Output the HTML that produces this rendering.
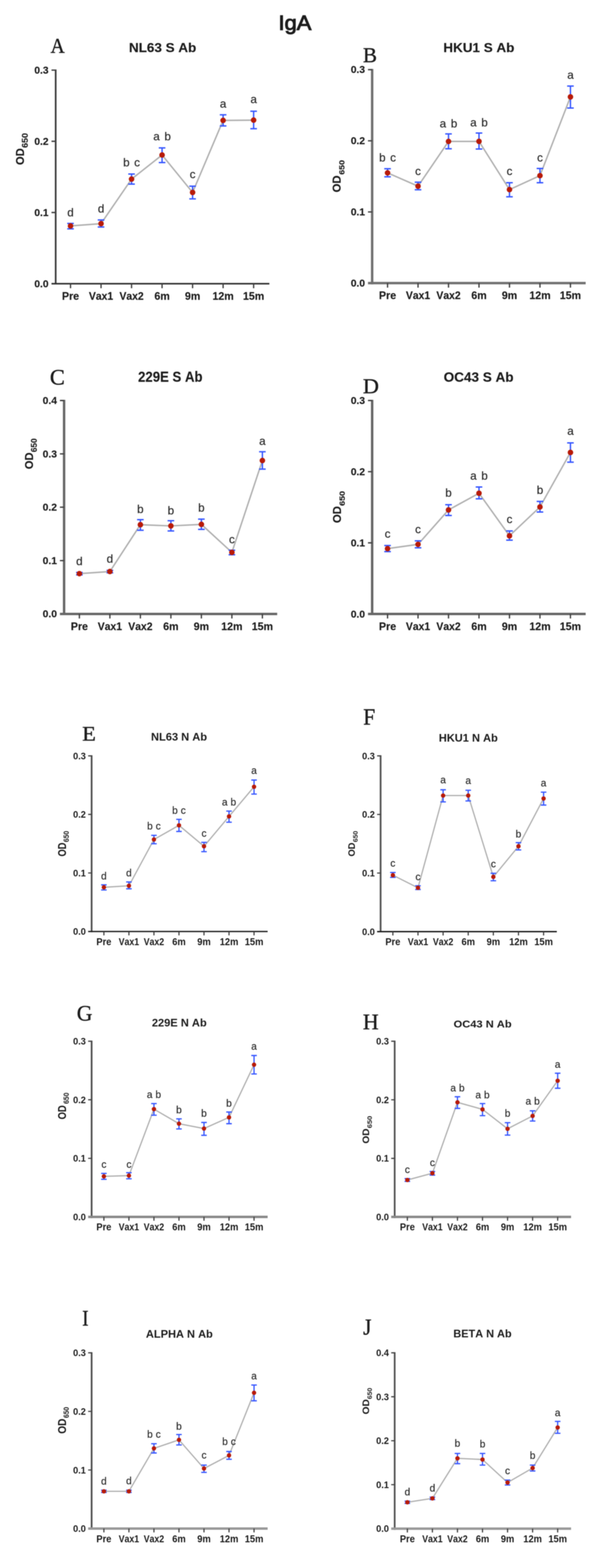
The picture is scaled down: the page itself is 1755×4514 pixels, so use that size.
<!DOCTYPE html>
<html><head><meta charset="utf-8"><title>IgA</title>
<style>html,body{margin:0;padding:0;background:#fff;}svg{display:block;}</style>
</head><body>
<svg width="1755" height="4514" viewBox="0 0 1755 4514">
<defs><filter id="sf" filterUnits="userSpaceOnUse" x="0" y="0" width="1755" height="4514" color-interpolation-filters="sRGB"><feGaussianBlur stdDeviation="1.2"/></filter></defs>
<style>
text{font-kerning:none;font-variant-ligatures:none}
.b{font-family:"Liberation Sans",Arial,sans-serif;font-weight:bold;fill:#1c1c1c;stroke:#1c1c1c;stroke-width:0.35px}
.r{font-family:"Liberation Sans",Arial,sans-serif;fill:#2a2a2a;stroke:#2a2a2a;stroke-width:0.4px}
.sm .b{stroke-width:0.0px}
.t{font-family:"Liberation Serif","Times New Roman",serif;fill:#1c1c1c;stroke:#1c1c1c;stroke-width:1.0px}
</style>
<rect width="1755" height="4514" fill="#ffffff"/>
<g filter="url(#sf)">
<text transform="translate(801.33 85.53) scale(1.0776 1)" class="r" font-size="58.44" style="stroke-width:2.4px;fill:#1c1c1c;stroke:#1c1c1c">IgA</text>
<g><path d="M160.2 199.9V819" stroke="#383838" stroke-width="4.8" fill="none"/><path d="M148.2 816.7H775" stroke="#303030" stroke-width="4.6" fill="none"/><path d="M148.2 611.73H160.2M148.2 406.77H160.2M148.2 201.8H160.2M202.9 816.7V829.7M290.7 816.7V829.7M378.5 816.7V829.7M466.3 816.7V829.7M554.1 816.7V829.7M641.9 816.7V829.7M729.7 816.7V829.7" stroke="#404040" stroke-width="3.8" fill="none"/><text transform="translate(139.74 826.61) scale(1.0296 1)" class="b" font-size="28.73" text-anchor="end">0.0</text><text transform="translate(139.74 621.65) scale(1.0296 1)" class="b" font-size="28.73" text-anchor="end">0.1</text><text transform="translate(139.74 416.68) scale(1.0296 1)" class="b" font-size="28.73" text-anchor="end">0.2</text><text transform="translate(139.74 211.71) scale(1.0296 1)" class="b" font-size="28.73" text-anchor="end">0.3</text><text transform="translate(202.9 863) scale(0.9915 1)" class="b" font-size="30.86" text-anchor="middle">Pre</text><text transform="translate(290.7 863) scale(0.9667 1)" class="b" font-size="30.86" text-anchor="middle">Vax1</text><text transform="translate(378.5 863) scale(0.9667 1)" class="b" font-size="30.86" text-anchor="middle">Vax2</text><text transform="translate(466.3 863) scale(0.9915 1)" class="b" font-size="30.86" text-anchor="middle">6m</text><text transform="translate(554.1 863) scale(0.9915 1)" class="b" font-size="30.86" text-anchor="middle">9m</text><text transform="translate(641.9 863) scale(0.9915 1)" class="b" font-size="30.86" text-anchor="middle">12m</text><text transform="translate(729.7 863) scale(0.9915 1)" class="b" font-size="30.86" text-anchor="middle">15m</text><polyline points="202.9,650.4 290.7,643.8 378.5,515.6 466.3,446.2 554.1,554 641.9,346.6 729.7,345.8" fill="none" stroke="#b0b0b0" stroke-width="4.2" stroke-linejoin="round"/><path d="M202.9 643.2V658.7M193.4 643.2H212.4M193.4 658.7H212.4M290.7 633.3V653.6M281.2 633.3H300.2M281.2 653.6H300.2M378.5 501V530M369 501H388M369 530H388M466.3 425.8V468M456.8 425.8H475.8M456.8 468H475.8M554.1 536V572.5M544.6 536H563.6M544.6 572.5H563.6M641.9 330.6V362.5M632.4 330.6H651.4M632.4 362.5H651.4M729.7 320.2V370.5M720.2 320.2H739.2M720.2 370.5H739.2" stroke="#3656ff" stroke-width="4" fill="none"/><circle cx="202.9" cy="650.4" r="8" fill="#b81a08"/><circle cx="290.7" cy="643.8" r="8" fill="#b81a08"/><circle cx="378.5" cy="515.6" r="8" fill="#b81a08"/><circle cx="466.3" cy="446.2" r="8" fill="#b81a08"/><circle cx="554.1" cy="554" r="8" fill="#b81a08"/><circle cx="641.9" cy="346.6" r="8" fill="#b81a08"/><circle cx="729.7" cy="345.8" r="8" fill="#b81a08"/><text transform="translate(202.9 622.8) scale(1.0000 1)" class="r" font-size="33.5" text-anchor="middle">d</text><text transform="translate(290.7 611.8) scale(1.0000 1)" class="r" font-size="33.5" text-anchor="middle">d</text><text transform="translate(378.5 479.4) scale(1.0000 1)" class="r" font-size="33.5" text-anchor="middle" word-spacing="4">b c</text><text transform="translate(466.3 404.3) scale(1.0000 1)" class="r" font-size="33.5" text-anchor="middle" word-spacing="4">a b</text><text transform="translate(554.1 513.2) scale(1.0000 1)" class="r" font-size="33.5" text-anchor="middle">c</text><text transform="translate(641.9 309.9) scale(1.0000 1)" class="r" font-size="33.5" text-anchor="middle">a</text><text transform="translate(729.7 297.4) scale(1.0000 1)" class="r" font-size="33.5" text-anchor="middle">a</text><text transform="translate(370.98 150.34) scale(1.0668 1)" class="b" font-size="36.33">NL63 S Ab</text><text transform="translate(145.44 151.9) scale(0.9338 1)" class="t" font-size="60.45">A</text><text transform="translate(68.57 474.88) rotate(-90) scale(0.9681 1)" class="b" font-size="33.1">OD</text><text transform="translate(79.87 425.8) rotate(-90) scale(1.1082 1)" class="b" font-size="23.1">650</text></g>
<g><path d="M1070.7 198.6V818.4" stroke="#707070" stroke-width="7" fill="none"/><path d="M1058.7 814.9H1685" stroke="#707070" stroke-width="7" fill="none"/><path d="M1058.7 610.1H1070.7M1058.7 405.3H1070.7M1058.7 200.5H1070.7M1115 814.9V827.9M1202.7 814.9V827.9M1290.4 814.9V827.9M1378.1 814.9V827.9M1465.8 814.9V827.9M1553.5 814.9V827.9M1641.2 814.9V827.9" stroke="#404040" stroke-width="3.8" fill="none"/><text transform="translate(1050.24 824.81) scale(1.0296 1)" class="b" font-size="28.73" text-anchor="end">0.0</text><text transform="translate(1050.24 620.01) scale(1.0296 1)" class="b" font-size="28.73" text-anchor="end">0.1</text><text transform="translate(1050.24 415.21) scale(1.0296 1)" class="b" font-size="28.73" text-anchor="end">0.2</text><text transform="translate(1050.24 210.41) scale(1.0296 1)" class="b" font-size="28.73" text-anchor="end">0.3</text><text transform="translate(1115 861.2) scale(0.9915 1)" class="b" font-size="30.86" text-anchor="middle">Pre</text><text transform="translate(1202.7 861.2) scale(0.9667 1)" class="b" font-size="30.86" text-anchor="middle">Vax1</text><text transform="translate(1290.4 861.2) scale(0.9667 1)" class="b" font-size="30.86" text-anchor="middle">Vax2</text><text transform="translate(1378.1 861.2) scale(0.9915 1)" class="b" font-size="30.86" text-anchor="middle">6m</text><text transform="translate(1465.8 861.2) scale(0.9915 1)" class="b" font-size="30.86" text-anchor="middle">9m</text><text transform="translate(1553.5 861.2) scale(0.9915 1)" class="b" font-size="30.86" text-anchor="middle">12m</text><text transform="translate(1641.2 861.2) scale(0.9915 1)" class="b" font-size="30.86" text-anchor="middle">15m</text><polyline points="1115,497.7 1202.7,536 1290.4,407.2 1378.1,407 1465.8,545.8 1553.5,505.7 1641.2,279" fill="none" stroke="#b0b0b0" stroke-width="4.2" stroke-linejoin="round"/><path d="M1115 485.7V509M1105.5 485.7H1124.5M1105.5 509H1124.5M1202.7 524.6V546.2M1193.2 524.6H1212.2M1193.2 546.2H1212.2M1290.4 385.4V428.2M1280.9 385.4H1299.9M1280.9 428.2H1299.9M1378.1 383V428.9M1368.6 383H1387.6M1368.6 428.9H1387.6M1465.8 526V566.6M1456.3 526H1475.3M1456.3 566.6H1475.3M1553.5 484.9V526M1544 484.9H1563M1544 526H1563M1641.2 247.8V311M1631.7 247.8H1650.7M1631.7 311H1650.7" stroke="#3656ff" stroke-width="4" fill="none"/><circle cx="1115" cy="497.7" r="8" fill="#b81a08"/><circle cx="1202.7" cy="536" r="8" fill="#b81a08"/><circle cx="1290.4" cy="407.2" r="8" fill="#b81a08"/><circle cx="1378.1" cy="407" r="8" fill="#b81a08"/><circle cx="1465.8" cy="545.8" r="8" fill="#b81a08"/><circle cx="1553.5" cy="505.7" r="8" fill="#b81a08"/><circle cx="1641.2" cy="279" r="8" fill="#b81a08"/><text transform="translate(1115 465) scale(1.0000 1)" class="r" font-size="33.5" text-anchor="middle" word-spacing="4">b c</text><text transform="translate(1202.7 503.9) scale(1.0000 1)" class="r" font-size="33.5" text-anchor="middle">c</text><text transform="translate(1290.4 366.9) scale(1.0000 1)" class="r" font-size="33.5" text-anchor="middle" word-spacing="4">a b</text><text transform="translate(1378.1 363.5) scale(1.0000 1)" class="r" font-size="33.5" text-anchor="middle" word-spacing="4">a b</text><text transform="translate(1465.8 504.1) scale(1.0000 1)" class="r" font-size="33.5" text-anchor="middle">c</text><text transform="translate(1553.5 464.5) scale(1.0000 1)" class="r" font-size="33.5" text-anchor="middle">c</text><text transform="translate(1641.2 226.5) scale(1.0000 1)" class="r" font-size="33.5" text-anchor="middle">a</text><text transform="translate(1275.48 150.34) scale(1.0659 1)" class="b" font-size="36.33">HKU1 S Ab</text><text transform="translate(1044.19 178.7) scale(0.9956 1)" class="t" font-size="60.61">B</text><text transform="translate(980.17 553.69) rotate(-90) scale(0.9935 1)" class="b" font-size="32.54">OD</text><text transform="translate(991.48 502.99) rotate(-90) scale(1.1536 1)" class="b" font-size="21.97">650</text></g>
<g><path d="M184.4 1151.1V1770.9" stroke="#686868" stroke-width="7" fill="none"/><path d="M172.4 1767.4H797.5" stroke="#686868" stroke-width="7" fill="none"/><path d="M172.4 1613.8H184.4M172.4 1460.2H184.4M172.4 1306.6H184.4M172.4 1153H184.4M228.4 1767.4V1780.4M316.15 1767.4V1780.4M403.9 1767.4V1780.4M491.65 1767.4V1780.4M579.4 1767.4V1780.4M667.15 1767.4V1780.4M754.9 1767.4V1780.4" stroke="#404040" stroke-width="3.8" fill="none"/><text transform="translate(163.94 1777.31) scale(1.0296 1)" class="b" font-size="28.73" text-anchor="end">0.0</text><text transform="translate(163.94 1623.71) scale(1.0296 1)" class="b" font-size="28.73" text-anchor="end">0.1</text><text transform="translate(163.94 1470.11) scale(1.0296 1)" class="b" font-size="28.73" text-anchor="end">0.2</text><text transform="translate(163.94 1316.51) scale(1.0296 1)" class="b" font-size="28.73" text-anchor="end">0.3</text><text transform="translate(163.94 1162.91) scale(1.0296 1)" class="b" font-size="28.73" text-anchor="end">0.4</text><text transform="translate(228.4 1813.7) scale(0.9915 1)" class="b" font-size="30.86" text-anchor="middle">Pre</text><text transform="translate(316.15 1813.7) scale(0.9667 1)" class="b" font-size="30.86" text-anchor="middle">Vax1</text><text transform="translate(403.9 1813.7) scale(0.9667 1)" class="b" font-size="30.86" text-anchor="middle">Vax2</text><text transform="translate(491.65 1813.7) scale(0.9915 1)" class="b" font-size="30.86" text-anchor="middle">6m</text><text transform="translate(579.4 1813.7) scale(0.9915 1)" class="b" font-size="30.86" text-anchor="middle">9m</text><text transform="translate(667.15 1813.7) scale(0.9915 1)" class="b" font-size="30.86" text-anchor="middle">12m</text><text transform="translate(754.9 1813.7) scale(0.9915 1)" class="b" font-size="30.86" text-anchor="middle">15m</text><polyline points="228.4,1651.4 316.15,1645.3 403.9,1510.5 491.65,1514 579.4,1509.6 667.15,1590.2 754.9,1325.8" fill="none" stroke="#b0b0b0" stroke-width="4.2" stroke-linejoin="round"/><path d="M228.4 1648V1655M218.9 1648H237.9M218.9 1655H237.9M316.15 1642V1649M306.65 1642H325.65M306.65 1649H325.65M403.9 1496V1526.5M394.4 1496H413.4M394.4 1526.5H413.4M491.65 1499V1528.5M482.15 1499H501.15M482.15 1528.5H501.15M579.4 1494.6V1524M569.9 1494.6H588.9M569.9 1524H588.9M667.15 1584V1597M657.65 1584H676.65M657.65 1597H676.65M754.9 1300.5V1350.4M745.4 1300.5H764.4M745.4 1350.4H764.4" stroke="#3656ff" stroke-width="4" fill="none"/><circle cx="228.4" cy="1651.4" r="8" fill="#b81a08"/><circle cx="316.15" cy="1645.3" r="8" fill="#b81a08"/><circle cx="403.9" cy="1510.5" r="8" fill="#b81a08"/><circle cx="491.65" cy="1514" r="8" fill="#b81a08"/><circle cx="579.4" cy="1509.6" r="8" fill="#b81a08"/><circle cx="667.15" cy="1590.2" r="8" fill="#b81a08"/><circle cx="754.9" cy="1325.8" r="8" fill="#b81a08"/><text transform="translate(228.4 1627) scale(1.0000 1)" class="r" font-size="33.5" text-anchor="middle">d</text><text transform="translate(316.15 1619.5) scale(1.0000 1)" class="r" font-size="33.5" text-anchor="middle">d</text><text transform="translate(403.9 1476.7) scale(1.0000 1)" class="r" font-size="33.5" text-anchor="middle">b</text><text transform="translate(491.65 1480.8) scale(1.0000 1)" class="r" font-size="33.5" text-anchor="middle">b</text><text transform="translate(579.4 1473) scale(1.0000 1)" class="r" font-size="33.5" text-anchor="middle">b</text><text transform="translate(667.15 1563.6) scale(1.0000 1)" class="r" font-size="33.5" text-anchor="middle">c</text><text transform="translate(754.9 1280.9) scale(1.0000 1)" class="r" font-size="33.5" text-anchor="middle">a</text><text transform="translate(397.27 1098.58) scale(0.8991 1)" class="b" font-size="42.18">229E S Ab</text><text transform="translate(143.42 1107.26) scale(1.0083 1)" class="t" font-size="64.03">C</text><text transform="translate(94.66 1350.68) rotate(-90) scale(0.9519 1)" class="b" font-size="33.66">OD</text><text transform="translate(105.57 1301.63) rotate(-90) scale(1.0230 1)" class="b" font-size="23.24">650</text></g>
<g><path d="M1070.7 1151.1V1771.1" stroke="#666666" stroke-width="7" fill="none"/><path d="M1058.7 1767.6H1685" stroke="#666666" stroke-width="7" fill="none"/><path d="M1058.7 1562.73H1070.7M1058.7 1357.87H1070.7M1058.7 1153H1070.7M1115 1767.6V1780.6M1202.7 1767.6V1780.6M1290.4 1767.6V1780.6M1378.1 1767.6V1780.6M1465.8 1767.6V1780.6M1553.5 1767.6V1780.6M1641.2 1767.6V1780.6" stroke="#404040" stroke-width="3.8" fill="none"/><text transform="translate(1050.24 1777.51) scale(1.0296 1)" class="b" font-size="28.73" text-anchor="end">0.0</text><text transform="translate(1050.24 1572.65) scale(1.0296 1)" class="b" font-size="28.73" text-anchor="end">0.1</text><text transform="translate(1050.24 1367.78) scale(1.0296 1)" class="b" font-size="28.73" text-anchor="end">0.2</text><text transform="translate(1050.24 1162.91) scale(1.0296 1)" class="b" font-size="28.73" text-anchor="end">0.3</text><text transform="translate(1115 1813.9) scale(0.9915 1)" class="b" font-size="30.86" text-anchor="middle">Pre</text><text transform="translate(1202.7 1813.9) scale(0.9667 1)" class="b" font-size="30.86" text-anchor="middle">Vax1</text><text transform="translate(1290.4 1813.9) scale(0.9667 1)" class="b" font-size="30.86" text-anchor="middle">Vax2</text><text transform="translate(1378.1 1813.9) scale(0.9915 1)" class="b" font-size="30.86" text-anchor="middle">6m</text><text transform="translate(1465.8 1813.9) scale(0.9915 1)" class="b" font-size="30.86" text-anchor="middle">9m</text><text transform="translate(1553.5 1813.9) scale(0.9915 1)" class="b" font-size="30.86" text-anchor="middle">12m</text><text transform="translate(1641.2 1813.9) scale(0.9915 1)" class="b" font-size="30.86" text-anchor="middle">15m</text><polyline points="1115,1579.4 1202.7,1567.2 1290.4,1468 1378.1,1420 1465.8,1542.5 1553.5,1459.4 1641.2,1302.5" fill="none" stroke="#b0b0b0" stroke-width="4.2" stroke-linejoin="round"/><path d="M1115 1570.6V1588M1105.5 1570.6H1124.5M1105.5 1588H1124.5M1202.7 1557V1577M1193.2 1557H1212.2M1193.2 1577H1212.2M1290.4 1453V1484M1280.9 1453H1299.9M1280.9 1484H1299.9M1378.1 1402V1436M1368.6 1402H1387.6M1368.6 1436H1387.6M1465.8 1528.6V1555M1456.3 1528.6H1475.3M1456.3 1555H1475.3M1553.5 1443.6V1474M1544 1443.6H1563M1544 1474H1563M1641.2 1275V1330.5M1631.7 1275H1650.7M1631.7 1330.5H1650.7" stroke="#3656ff" stroke-width="4" fill="none"/><circle cx="1115" cy="1579.4" r="8" fill="#b81a08"/><circle cx="1202.7" cy="1567.2" r="8" fill="#b81a08"/><circle cx="1290.4" cy="1468" r="8" fill="#b81a08"/><circle cx="1378.1" cy="1420" r="8" fill="#b81a08"/><circle cx="1465.8" cy="1542.5" r="8" fill="#b81a08"/><circle cx="1553.5" cy="1459.4" r="8" fill="#b81a08"/><circle cx="1641.2" cy="1302.5" r="8" fill="#b81a08"/><text transform="translate(1115 1548.3) scale(1.0000 1)" class="r" font-size="33.5" text-anchor="middle">c</text><text transform="translate(1202.7 1535.3) scale(1.0000 1)" class="r" font-size="33.5" text-anchor="middle">c</text><text transform="translate(1290.4 1429.8) scale(1.0000 1)" class="r" font-size="33.5" text-anchor="middle">b</text><text transform="translate(1378.1 1381) scale(1.0000 1)" class="r" font-size="33.5" text-anchor="middle" word-spacing="4">a b</text><text transform="translate(1465.8 1506.3) scale(1.0000 1)" class="r" font-size="33.5" text-anchor="middle">c</text><text transform="translate(1553.5 1422.2) scale(1.0000 1)" class="r" font-size="33.5" text-anchor="middle">b</text><text transform="translate(1641.2 1252.3) scale(1.0000 1)" class="r" font-size="33.5" text-anchor="middle">a</text><text transform="translate(1276.44 1098.62) scale(1.0221 1)" class="b" font-size="38.1">OC43 S Ab</text><text transform="translate(1044.08 1132) scale(1.0480 1)" class="t" font-size="61.07">D</text><text transform="translate(980.57 1505.8) rotate(-90) scale(0.9830 1)" class="b" font-size="33.1">OD</text><text transform="translate(991.87 1456.51) rotate(-90) scale(1.1384 1)" class="b" font-size="22.82">650</text></g>
<g class="sm"><path d="M263.6 2174.3V2683.6" stroke="#505050" stroke-width="5" fill="none"/><path d="M253.6 2681.7H770" stroke="#1c1c1c" stroke-width="3.8" fill="none"/><path d="M253.6 2513.13H263.6M253.6 2344.57H263.6M253.6 2176H263.6M298.9 2681.7V2692.7M370.9 2681.7V2692.7M442.9 2681.7V2692.7M514.9 2681.7V2692.7M586.9 2681.7V2692.7M658.9 2681.7V2692.7M730.9 2681.7V2692.7" stroke="#404040" stroke-width="3.4" fill="none"/><text transform="translate(247.02 2691.37) scale(0.9415 1)" class="b" font-size="28.03" text-anchor="end">0.0</text><text transform="translate(247.02 2522.8) scale(0.9415 1)" class="b" font-size="28.03" text-anchor="end">0.1</text><text transform="translate(247.02 2354.24) scale(0.9415 1)" class="b" font-size="28.03" text-anchor="end">0.2</text><text transform="translate(247.02 2185.67) scale(0.9415 1)" class="b" font-size="28.03" text-anchor="end">0.3</text><text transform="translate(298.9 2720.7) scale(0.9136 1)" class="b" font-size="29.29" text-anchor="middle">Pre</text><text transform="translate(370.9 2720.7) scale(0.8588 1)" class="b" font-size="29.29" text-anchor="middle">Vax1</text><text transform="translate(442.9 2720.7) scale(0.8588 1)" class="b" font-size="29.29" text-anchor="middle">Vax2</text><text transform="translate(514.9 2720.7) scale(0.9136 1)" class="b" font-size="29.29" text-anchor="middle">6m</text><text transform="translate(586.9 2720.7) scale(0.9136 1)" class="b" font-size="29.29" text-anchor="middle">9m</text><text transform="translate(658.9 2720.7) scale(0.9136 1)" class="b" font-size="29.29" text-anchor="middle">12m</text><text transform="translate(730.9 2720.7) scale(0.9136 1)" class="b" font-size="29.29" text-anchor="middle">15m</text><polyline points="298.9,2554.4 370.9,2550 442.9,2416.8 514.9,2376 586.9,2436.3 658.9,2350.3 730.9,2265" fill="none" stroke="#b0b0b0" stroke-width="3.6" stroke-linejoin="round"/><path d="M298.9 2547.4V2562M290.9 2547.4H306.9M290.9 2562H306.9M370.9 2539V2558.6M362.9 2539H378.9M362.9 2558.6H378.9M442.9 2404.7V2429M434.9 2404.7H450.9M434.9 2429H450.9M514.9 2358.7V2393.6M506.9 2358.7H522.9M506.9 2393.6H522.9M586.9 2425V2451.7M578.9 2425H594.9M578.9 2451.7H594.9M658.9 2335V2367M650.9 2335H666.9M650.9 2367H666.9M730.9 2245.6V2286M722.9 2245.6H738.9M722.9 2286H738.9" stroke="#3656ff" stroke-width="3.6" fill="none"/><circle cx="298.9" cy="2554.4" r="6.3" fill="#b81a08"/><circle cx="370.9" cy="2550" r="6.3" fill="#b81a08"/><circle cx="442.9" cy="2416.8" r="6.3" fill="#b81a08"/><circle cx="514.9" cy="2376" r="6.3" fill="#b81a08"/><circle cx="586.9" cy="2436.3" r="6.3" fill="#b81a08"/><circle cx="658.9" cy="2350.3" r="6.3" fill="#b81a08"/><circle cx="730.9" cy="2265" r="6.3" fill="#b81a08"/><text transform="translate(298.9 2531.5) scale(1.0000 1)" class="r" font-size="29" text-anchor="middle">d</text><text transform="translate(370.9 2522.9) scale(1.0000 1)" class="r" font-size="29" text-anchor="middle">d</text><text transform="translate(442.9 2387.9) scale(1.0000 1)" class="r" font-size="29" text-anchor="middle" word-spacing="0.5">b c</text><text transform="translate(514.9 2342.5) scale(1.0000 1)" class="r" font-size="29" text-anchor="middle" word-spacing="0.5">b c</text><text transform="translate(586.9 2408.5) scale(1.0000 1)" class="r" font-size="29" text-anchor="middle">c</text><text transform="translate(658.9 2318.9) scale(1.0000 1)" class="r" font-size="29" text-anchor="middle" word-spacing="0.5">a b</text><text transform="translate(730.9 2227.9) scale(1.0000 1)" class="r" font-size="29" text-anchor="middle">a</text><text transform="translate(434.43 2132.1) scale(1.0464 1)" class="b" font-size="30.48">NL63 N Ab</text><text transform="translate(236.48 2132.4) scale(1.0802 1)" class="t" font-size="59.39">E</text><text transform="translate(189.97 2465.87) rotate(-90) scale(0.8247 1)" class="b" font-size="32.54">OD</text><text transform="translate(197.58 2424.49) rotate(-90) scale(0.8874 1)" class="b" font-size="22.11">650</text></g>
<g class="sm"><path d="M1095 2174.3V2683.9" stroke="#505050" stroke-width="5" fill="none"/><path d="M1085 2682H1602" stroke="#1c1c1c" stroke-width="3.8" fill="none"/><path d="M1085 2513.33H1095M1085 2344.67H1095M1085 2176H1095M1130.3 2682V2693M1202.57 2682V2693M1274.84 2682V2693M1347.11 2682V2693M1419.38 2682V2693M1491.65 2682V2693M1563.92 2682V2693" stroke="#404040" stroke-width="3.4" fill="none"/><text transform="translate(1078.42 2691.67) scale(0.9415 1)" class="b" font-size="28.03" text-anchor="end">0.0</text><text transform="translate(1078.42 2523) scale(0.9415 1)" class="b" font-size="28.03" text-anchor="end">0.1</text><text transform="translate(1078.42 2354.34) scale(0.9415 1)" class="b" font-size="28.03" text-anchor="end">0.2</text><text transform="translate(1078.42 2185.67) scale(0.9415 1)" class="b" font-size="28.03" text-anchor="end">0.3</text><text transform="translate(1130.3 2721) scale(0.9136 1)" class="b" font-size="29.29" text-anchor="middle">Pre</text><text transform="translate(1202.57 2721) scale(0.8588 1)" class="b" font-size="29.29" text-anchor="middle">Vax1</text><text transform="translate(1274.84 2721) scale(0.8588 1)" class="b" font-size="29.29" text-anchor="middle">Vax2</text><text transform="translate(1347.11 2721) scale(0.9136 1)" class="b" font-size="29.29" text-anchor="middle">6m</text><text transform="translate(1419.38 2721) scale(0.9136 1)" class="b" font-size="29.29" text-anchor="middle">9m</text><text transform="translate(1491.65 2721) scale(0.9136 1)" class="b" font-size="29.29" text-anchor="middle">12m</text><text transform="translate(1563.92 2721) scale(0.9136 1)" class="b" font-size="29.29" text-anchor="middle">15m</text><polyline points="1130.3,2519.5 1202.57,2555.8 1274.84,2290.3 1347.11,2290.3 1419.38,2524.4 1491.65,2436.3 1563.92,2298.7" fill="none" stroke="#b0b0b0" stroke-width="3.6" stroke-linejoin="round"/><path d="M1130.3 2511.8V2525.8M1122.3 2511.8H1138.3M1122.3 2525.8H1138.3M1202.57 2550V2560.7M1194.57 2550H1210.57M1194.57 2560.7H1210.57M1274.84 2273.6V2308.5M1266.84 2273.6H1282.84M1266.84 2308.5H1282.84M1347.11 2275V2305.7M1339.11 2275H1355.11M1339.11 2305.7H1355.11M1419.38 2514V2535.5M1411.38 2514H1427.38M1411.38 2535.5H1427.38M1491.65 2425.8V2446.8M1483.65 2425.8H1499.65M1483.65 2446.8H1499.65M1563.92 2280.5V2317.6M1555.92 2280.5H1571.92M1555.92 2317.6H1571.92" stroke="#3656ff" stroke-width="3.6" fill="none"/><circle cx="1130.3" cy="2519.5" r="6.3" fill="#b81a08"/><circle cx="1202.57" cy="2555.8" r="6.3" fill="#b81a08"/><circle cx="1274.84" cy="2290.3" r="6.3" fill="#b81a08"/><circle cx="1347.11" cy="2290.3" r="6.3" fill="#b81a08"/><circle cx="1419.38" cy="2524.4" r="6.3" fill="#b81a08"/><circle cx="1491.65" cy="2436.3" r="6.3" fill="#b81a08"/><circle cx="1563.92" cy="2298.7" r="6.3" fill="#b81a08"/><text transform="translate(1130.3 2495.1) scale(1.0000 1)" class="r" font-size="29" text-anchor="middle">c</text><text transform="translate(1202.57 2533.9) scale(1.0000 1)" class="r" font-size="29" text-anchor="middle">c</text><text transform="translate(1274.84 2255.1) scale(1.0000 1)" class="r" font-size="29" text-anchor="middle">a</text><text transform="translate(1347.11 2256.9) scale(1.0000 1)" class="r" font-size="29" text-anchor="middle">a</text><text transform="translate(1419.38 2496.9) scale(1.0000 1)" class="r" font-size="29" text-anchor="middle">c</text><text transform="translate(1491.65 2410.7) scale(1.0000 1)" class="r" font-size="29" text-anchor="middle">b</text><text transform="translate(1563.92 2264.2) scale(1.0000 1)" class="r" font-size="29" text-anchor="middle">a</text><text transform="translate(1262.43 2134.69) scale(1.0169 1)" class="b" font-size="31.29">HKU1 N Ab</text><text transform="translate(1045.04 2086.3) scale(0.9173 1)" class="t" font-size="67.63">F</text><text transform="translate(1021.32 2465.87) rotate(-90) scale(0.9621 1)" class="b" font-size="27.89">OD</text><text transform="translate(1028.62 2424.49) rotate(-90) scale(1.0970 1)" class="b" font-size="17.89">650</text></g>
<g class="sm"><path d="M263.6 2995.8V3506.7" stroke="#505050" stroke-width="5" fill="none"/><path d="M253.6 3503.2H770" stroke="#888888" stroke-width="7" fill="none"/><path d="M253.6 3334.63H263.6M253.6 3166.07H263.6M253.6 2997.5H263.6M298.9 3503.2V3514.2M370.9 3503.2V3514.2M442.9 3503.2V3514.2M514.9 3503.2V3514.2M586.9 3503.2V3514.2M658.9 3503.2V3514.2M730.9 3503.2V3514.2" stroke="#404040" stroke-width="3.4" fill="none"/><text transform="translate(247.02 3512.87) scale(0.9415 1)" class="b" font-size="28.03" text-anchor="end">0.0</text><text transform="translate(247.02 3344.3) scale(0.9415 1)" class="b" font-size="28.03" text-anchor="end">0.1</text><text transform="translate(247.02 3175.74) scale(0.9415 1)" class="b" font-size="28.03" text-anchor="end">0.2</text><text transform="translate(247.02 3007.17) scale(0.9415 1)" class="b" font-size="28.03" text-anchor="end">0.3</text><text transform="translate(298.9 3542.2) scale(0.9136 1)" class="b" font-size="29.29" text-anchor="middle">Pre</text><text transform="translate(370.9 3542.2) scale(0.8588 1)" class="b" font-size="29.29" text-anchor="middle">Vax1</text><text transform="translate(442.9 3542.2) scale(0.8588 1)" class="b" font-size="29.29" text-anchor="middle">Vax2</text><text transform="translate(514.9 3542.2) scale(0.9136 1)" class="b" font-size="29.29" text-anchor="middle">6m</text><text transform="translate(586.9 3542.2) scale(0.9136 1)" class="b" font-size="29.29" text-anchor="middle">9m</text><text transform="translate(658.9 3542.2) scale(0.9136 1)" class="b" font-size="29.29" text-anchor="middle">12m</text><text transform="translate(730.9 3542.2) scale(0.9136 1)" class="b" font-size="29.29" text-anchor="middle">15m</text><polyline points="298.9,3386.5 370.9,3384.4 442.9,3193 514.9,3234.9 586.9,3248.9 658.9,3216.7 730.9,3065.1" fill="none" stroke="#b0b0b0" stroke-width="3.6" stroke-linejoin="round"/><path d="M298.9 3378V3395M290.9 3378H306.9M290.9 3395H306.9M370.9 3376V3393.5M362.9 3376H378.9M362.9 3393.5H378.9M442.9 3177V3210.5M434.9 3177H450.9M434.9 3210.5H450.9M514.9 3221V3250M506.9 3221H522.9M506.9 3250H522.9M586.9 3231.4V3268.4M578.9 3231.4H594.9M578.9 3268.4H594.9M658.9 3201.4V3234.9M650.9 3201.4H666.9M650.9 3234.9H666.9M730.9 3038.6V3091.7M722.9 3038.6H738.9M722.9 3091.7H738.9" stroke="#3656ff" stroke-width="3.6" fill="none"/><circle cx="298.9" cy="3386.5" r="6.3" fill="#b81a08"/><circle cx="370.9" cy="3384.4" r="6.3" fill="#b81a08"/><circle cx="442.9" cy="3193" r="6.3" fill="#b81a08"/><circle cx="514.9" cy="3234.9" r="6.3" fill="#b81a08"/><circle cx="586.9" cy="3248.9" r="6.3" fill="#b81a08"/><circle cx="658.9" cy="3216.7" r="6.3" fill="#b81a08"/><circle cx="730.9" cy="3065.1" r="6.3" fill="#b81a08"/><text transform="translate(298.9 3361.5) scale(1.0000 1)" class="r" font-size="29" text-anchor="middle">c</text><text transform="translate(370.9 3361.5) scale(1.0000 1)" class="r" font-size="29" text-anchor="middle">c</text><text transform="translate(442.9 3161.3) scale(1.0000 1)" class="r" font-size="29" text-anchor="middle" word-spacing="0.5">a b</text><text transform="translate(514.9 3205.3) scale(1.0000 1)" class="r" font-size="29" text-anchor="middle">b</text><text transform="translate(586.9 3215.2) scale(1.0000 1)" class="r" font-size="29" text-anchor="middle">b</text><text transform="translate(658.9 3185.6) scale(1.0000 1)" class="r" font-size="29" text-anchor="middle">b</text><text transform="translate(730.9 3021.8) scale(1.0000 1)" class="r" font-size="29" text-anchor="middle">a</text><text transform="translate(436.88 2954.5) scale(1.0468 1)" class="b" font-size="30.48">229E N Ab</text><text transform="translate(221.01 2938.36) scale(0.9684 1)" class="t" font-size="64.18">G</text><text transform="translate(190.27 3222.59) rotate(-90) scale(0.8213 1)" class="b" font-size="33.1">OD</text><text transform="translate(197.67 3178.09) rotate(-90) scale(0.8600 1)" class="b" font-size="22.82">650</text></g>
<g class="sm"><path d="M1135.5 2995.8V3506.8" stroke="#555555" stroke-width="5" fill="none"/><path d="M1125.5 3503.3H1643" stroke="#888888" stroke-width="7" fill="none"/><path d="M1125.5 3334.7H1135.5M1125.5 3166.1H1135.5M1125.5 2997.5H1135.5M1172 3503.3V3514.3M1244.07 3503.3V3514.3M1316.14 3503.3V3514.3M1388.21 3503.3V3514.3M1460.28 3503.3V3514.3M1532.35 3503.3V3514.3M1604.42 3503.3V3514.3" stroke="#404040" stroke-width="3.4" fill="none"/><text transform="translate(1118.92 3512.97) scale(0.9415 1)" class="b" font-size="28.03" text-anchor="end">0.0</text><text transform="translate(1118.92 3344.37) scale(0.9415 1)" class="b" font-size="28.03" text-anchor="end">0.1</text><text transform="translate(1118.92 3175.77) scale(0.9415 1)" class="b" font-size="28.03" text-anchor="end">0.2</text><text transform="translate(1118.92 3007.17) scale(0.9415 1)" class="b" font-size="28.03" text-anchor="end">0.3</text><text transform="translate(1172 3542.3) scale(0.9136 1)" class="b" font-size="29.29" text-anchor="middle">Pre</text><text transform="translate(1244.07 3542.3) scale(0.8588 1)" class="b" font-size="29.29" text-anchor="middle">Vax1</text><text transform="translate(1316.14 3542.3) scale(0.8588 1)" class="b" font-size="29.29" text-anchor="middle">Vax2</text><text transform="translate(1388.21 3542.3) scale(0.9136 1)" class="b" font-size="29.29" text-anchor="middle">6m</text><text transform="translate(1460.28 3542.3) scale(0.9136 1)" class="b" font-size="29.29" text-anchor="middle">9m</text><text transform="translate(1532.35 3542.3) scale(0.9136 1)" class="b" font-size="29.29" text-anchor="middle">12m</text><text transform="translate(1604.42 3542.3) scale(0.9136 1)" class="b" font-size="29.29" text-anchor="middle">15m</text><polyline points="1172,3397 1244.07,3377.4 1316.14,3173.4 1388.21,3193.7 1460.28,3249.6 1532.35,3212.5 1604.42,3111.2" fill="none" stroke="#b0b0b0" stroke-width="3.6" stroke-linejoin="round"/><path d="M1172 3393V3401M1164 3393H1180M1164 3401H1180M1244.07 3372.5V3383M1236.07 3372.5H1252.07M1236.07 3383H1252.07M1316.14 3157.4V3190.9M1308.14 3157.4H1324.14M1308.14 3190.9H1324.14M1388.21 3177V3211.8M1380.21 3177H1396.21M1380.21 3211.8H1396.21M1460.28 3232V3267.7M1452.28 3232H1468.28M1452.28 3267.7H1468.28M1532.35 3197.9V3227.2M1524.35 3197.9H1540.35M1524.35 3227.2H1540.35M1604.42 3089.6V3132.9M1596.42 3089.6H1612.42M1596.42 3132.9H1612.42" stroke="#3656ff" stroke-width="3.6" fill="none"/><circle cx="1172" cy="3397" r="6.3" fill="#b81a08"/><circle cx="1244.07" cy="3377.4" r="6.3" fill="#b81a08"/><circle cx="1316.14" cy="3173.4" r="6.3" fill="#b81a08"/><circle cx="1388.21" cy="3193.7" r="6.3" fill="#b81a08"/><circle cx="1460.28" cy="3249.6" r="6.3" fill="#b81a08"/><circle cx="1532.35" cy="3212.5" r="6.3" fill="#b81a08"/><circle cx="1604.42" cy="3111.2" r="6.3" fill="#b81a08"/><text transform="translate(1172 3376.6) scale(1.0000 1)" class="r" font-size="29" text-anchor="middle">c</text><text transform="translate(1244.07 3356.5) scale(1.0000 1)" class="r" font-size="29" text-anchor="middle">c</text><text transform="translate(1316.14 3141.6) scale(1.0000 1)" class="r" font-size="29" text-anchor="middle" word-spacing="0.5">a b</text><text transform="translate(1388.21 3162.3) scale(1.0000 1)" class="r" font-size="29" text-anchor="middle" word-spacing="0.5">a b</text><text transform="translate(1460.28 3215.1) scale(1.0000 1)" class="r" font-size="29" text-anchor="middle">b</text><text transform="translate(1532.35 3180.1) scale(1.0000 1)" class="r" font-size="29" text-anchor="middle" word-spacing="0.5">a b</text><text transform="translate(1604.42 3073.9) scale(1.0000 1)" class="r" font-size="29" text-anchor="middle">a</text><text transform="translate(1305.12 2957.5) scale(1.0721 1)" class="b" font-size="29.8">OC43 N Ab</text><text transform="translate(1044.01 2962.8) scale(0.9873 1)" class="t" font-size="63.82">H</text><text transform="translate(1061.72 3292.36) rotate(-90) scale(1.0325 1)" class="b" font-size="28.17">OD</text><text transform="translate(1069.82 3247.95) rotate(-90) scale(1.1679 1)" class="b" font-size="18.31">650</text></g>
<g class="sm"><path d="M263.6 3892.8V4404" stroke="#505050" stroke-width="5" fill="none"/><path d="M253.6 4400.5H770" stroke="#999999" stroke-width="7" fill="none"/><path d="M253.6 4231.83H263.6M253.6 4063.17H263.6M253.6 3894.5H263.6M298.9 4400.5V4411.5M370.9 4400.5V4411.5M442.9 4400.5V4411.5M514.9 4400.5V4411.5M586.9 4400.5V4411.5M658.9 4400.5V4411.5M730.9 4400.5V4411.5" stroke="#404040" stroke-width="3.4" fill="none"/><text transform="translate(247.02 4410.17) scale(0.9415 1)" class="b" font-size="28.03" text-anchor="end">0.0</text><text transform="translate(247.02 4241.5) scale(0.9415 1)" class="b" font-size="28.03" text-anchor="end">0.1</text><text transform="translate(247.02 4072.84) scale(0.9415 1)" class="b" font-size="28.03" text-anchor="end">0.2</text><text transform="translate(247.02 3904.17) scale(0.9415 1)" class="b" font-size="28.03" text-anchor="end">0.3</text><text transform="translate(298.9 4439.5) scale(0.9136 1)" class="b" font-size="29.29" text-anchor="middle">Pre</text><text transform="translate(370.9 4439.5) scale(0.8588 1)" class="b" font-size="29.29" text-anchor="middle">Vax1</text><text transform="translate(442.9 4439.5) scale(0.8588 1)" class="b" font-size="29.29" text-anchor="middle">Vax2</text><text transform="translate(514.9 4439.5) scale(0.9136 1)" class="b" font-size="29.29" text-anchor="middle">6m</text><text transform="translate(586.9 4439.5) scale(0.9136 1)" class="b" font-size="29.29" text-anchor="middle">9m</text><text transform="translate(658.9 4439.5) scale(0.9136 1)" class="b" font-size="29.29" text-anchor="middle">12m</text><text transform="translate(730.9 4439.5) scale(0.9136 1)" class="b" font-size="29.29" text-anchor="middle">15m</text><polyline points="298.9,4293.2 370.9,4293.2 442.9,4169.6 514.9,4145.1 586.9,4227.6 658.9,4189.8 730.9,4009.6" fill="none" stroke="#b0b0b0" stroke-width="3.6" stroke-linejoin="round"/><path d="M298.9 4290V4296.5M290.9 4290H306.9M290.9 4296.5H306.9M370.9 4290V4296.5M362.9 4290H378.9M362.9 4296.5H378.9M442.9 4156.3V4182.9M434.9 4156.3H450.9M434.9 4182.9H450.9M514.9 4129.7V4159.8M506.9 4129.7H522.9M506.9 4159.8H522.9M586.9 4217.8V4238.7M578.9 4217.8H594.9M578.9 4238.7H594.9M658.9 4178.6V4201M650.9 4178.6H666.9M650.9 4201H666.9M730.9 3987.3V4032.6M722.9 3987.3H738.9M722.9 4032.6H738.9" stroke="#3656ff" stroke-width="3.6" fill="none"/><circle cx="298.9" cy="4293.2" r="6.3" fill="#b81a08"/><circle cx="370.9" cy="4293.2" r="6.3" fill="#b81a08"/><circle cx="442.9" cy="4169.6" r="6.3" fill="#b81a08"/><circle cx="514.9" cy="4145.1" r="6.3" fill="#b81a08"/><circle cx="586.9" cy="4227.6" r="6.3" fill="#b81a08"/><circle cx="658.9" cy="4189.8" r="6.3" fill="#b81a08"/><circle cx="730.9" cy="4009.6" r="6.3" fill="#b81a08"/><text transform="translate(298.9 4273.7) scale(1.0000 1)" class="r" font-size="29" text-anchor="middle">d</text><text transform="translate(370.9 4273) scale(1.0000 1)" class="r" font-size="29" text-anchor="middle">d</text><text transform="translate(442.9 4138.7) scale(1.0000 1)" class="r" font-size="29" text-anchor="middle" word-spacing="0.5">b c</text><text transform="translate(514.9 4115.5) scale(1.0000 1)" class="r" font-size="29" text-anchor="middle">b</text><text transform="translate(586.9 4199.3) scale(1.0000 1)" class="r" font-size="29" text-anchor="middle">c</text><text transform="translate(658.9 4159.5) scale(1.0000 1)" class="r" font-size="29" text-anchor="middle" word-spacing="0.5">b c</text><text transform="translate(730.9 3970.9) scale(1.0000 1)" class="r" font-size="29" text-anchor="middle">a</text><text transform="translate(419.81 3850.99) scale(1.0203 1)" class="b" font-size="31.16">ALPHA N Ab</text><text transform="translate(236.48 3816.4) scale(0.8657 1)" class="t" font-size="63.21">I</text><text transform="translate(190.27 4127.57) rotate(-90) scale(0.8809 1)" class="b" font-size="33.1">OD</text><text transform="translate(197.67 4082.27) rotate(-90) scale(0.8407 1)" class="b" font-size="22.82">650</text></g>
<g class="sm"><path d="M1135.5 3892.8V4404.2" stroke="#555555" stroke-width="5" fill="none"/><path d="M1125.5 4400.7H1643" stroke="#999999" stroke-width="7" fill="none"/><path d="M1125.5 4274.15H1135.5M1125.5 4147.6H1135.5M1125.5 4021.05H1135.5M1125.5 3894.5H1135.5M1172 4400.7V4411.7M1244.07 4400.7V4411.7M1316.14 4400.7V4411.7M1388.21 4400.7V4411.7M1460.28 4400.7V4411.7M1532.35 4400.7V4411.7M1604.42 4400.7V4411.7" stroke="#404040" stroke-width="3.4" fill="none"/><text transform="translate(1118.92 4410.37) scale(0.9415 1)" class="b" font-size="28.03" text-anchor="end">0.0</text><text transform="translate(1118.92 4283.82) scale(0.9415 1)" class="b" font-size="28.03" text-anchor="end">0.1</text><text transform="translate(1118.92 4157.27) scale(0.9415 1)" class="b" font-size="28.03" text-anchor="end">0.2</text><text transform="translate(1118.92 4030.72) scale(0.9415 1)" class="b" font-size="28.03" text-anchor="end">0.3</text><text transform="translate(1118.92 3904.17) scale(0.9415 1)" class="b" font-size="28.03" text-anchor="end">0.4</text><text transform="translate(1172 4439.7) scale(0.9136 1)" class="b" font-size="29.29" text-anchor="middle">Pre</text><text transform="translate(1244.07 4439.7) scale(0.8588 1)" class="b" font-size="29.29" text-anchor="middle">Vax1</text><text transform="translate(1316.14 4439.7) scale(0.8588 1)" class="b" font-size="29.29" text-anchor="middle">Vax2</text><text transform="translate(1388.21 4439.7) scale(0.9136 1)" class="b" font-size="29.29" text-anchor="middle">6m</text><text transform="translate(1460.28 4439.7) scale(0.9136 1)" class="b" font-size="29.29" text-anchor="middle">9m</text><text transform="translate(1532.35 4439.7) scale(0.9136 1)" class="b" font-size="29.29" text-anchor="middle">12m</text><text transform="translate(1604.42 4439.7) scale(0.9136 1)" class="b" font-size="29.29" text-anchor="middle">15m</text><polyline points="1172,4324.7 1244.07,4313.5 1316.14,4198.2 1388.21,4201.7 1460.28,4268 1532.35,4226.2 1604.42,4109.5" fill="none" stroke="#b0b0b0" stroke-width="3.6" stroke-linejoin="round"/><path d="M1172 4321.5V4328M1164 4321.5H1180M1164 4328H1180M1244.07 4310V4317M1236.07 4310H1252.07M1236.07 4317H1252.07M1316.14 4184.2V4213.6M1308.14 4184.2H1324.14M1308.14 4213.6H1324.14M1388.21 4184.2V4217.8M1380.21 4184.2H1396.21M1380.21 4217.8H1396.21M1460.28 4261V4275M1452.28 4261H1468.28M1452.28 4275H1468.28M1532.35 4217.8V4234.6M1524.35 4217.8H1540.35M1524.35 4234.6H1540.35M1604.42 4092V4126.3M1596.42 4092H1612.42M1596.42 4126.3H1612.42" stroke="#3656ff" stroke-width="3.6" fill="none"/><circle cx="1172" cy="4324.7" r="6.3" fill="#b81a08"/><circle cx="1244.07" cy="4313.5" r="6.3" fill="#b81a08"/><circle cx="1316.14" cy="4198.2" r="6.3" fill="#b81a08"/><circle cx="1388.21" cy="4201.7" r="6.3" fill="#b81a08"/><circle cx="1460.28" cy="4268" r="6.3" fill="#b81a08"/><circle cx="1532.35" cy="4226.2" r="6.3" fill="#b81a08"/><circle cx="1604.42" cy="4109.5" r="6.3" fill="#b81a08"/><text transform="translate(1172 4304.6) scale(1.0000 1)" class="r" font-size="29" text-anchor="middle">d</text><text transform="translate(1244.07 4293.6) scale(1.0000 1)" class="r" font-size="29" text-anchor="middle">d</text><text transform="translate(1316.14 4165.1) scale(1.0000 1)" class="r" font-size="29" text-anchor="middle">b</text><text transform="translate(1388.21 4167.1) scale(1.0000 1)" class="r" font-size="29" text-anchor="middle">b</text><text transform="translate(1460.28 4243.5) scale(1.0000 1)" class="r" font-size="29" text-anchor="middle">c</text><text transform="translate(1532.35 4200.3) scale(1.0000 1)" class="r" font-size="29" text-anchor="middle">b</text><text transform="translate(1604.42 4076.6) scale(1.0000 1)" class="r" font-size="29" text-anchor="middle">a</text><text transform="translate(1304.36 3849.69) scale(1.0052 1)" class="b" font-size="31.29">BETA N Ab</text><text transform="translate(1044.67 3842.25) scale(0.9522 1)" class="t" font-size="64.51">J</text><text transform="translate(1061.72 4071.66) rotate(-90) scale(1.0325 1)" class="b" font-size="28.17">OD</text><text transform="translate(1069.82 4027.89) rotate(-90) scale(1.0717 1)" class="b" font-size="18.31">650</text></g>
</g>
</svg>
</body></html>
